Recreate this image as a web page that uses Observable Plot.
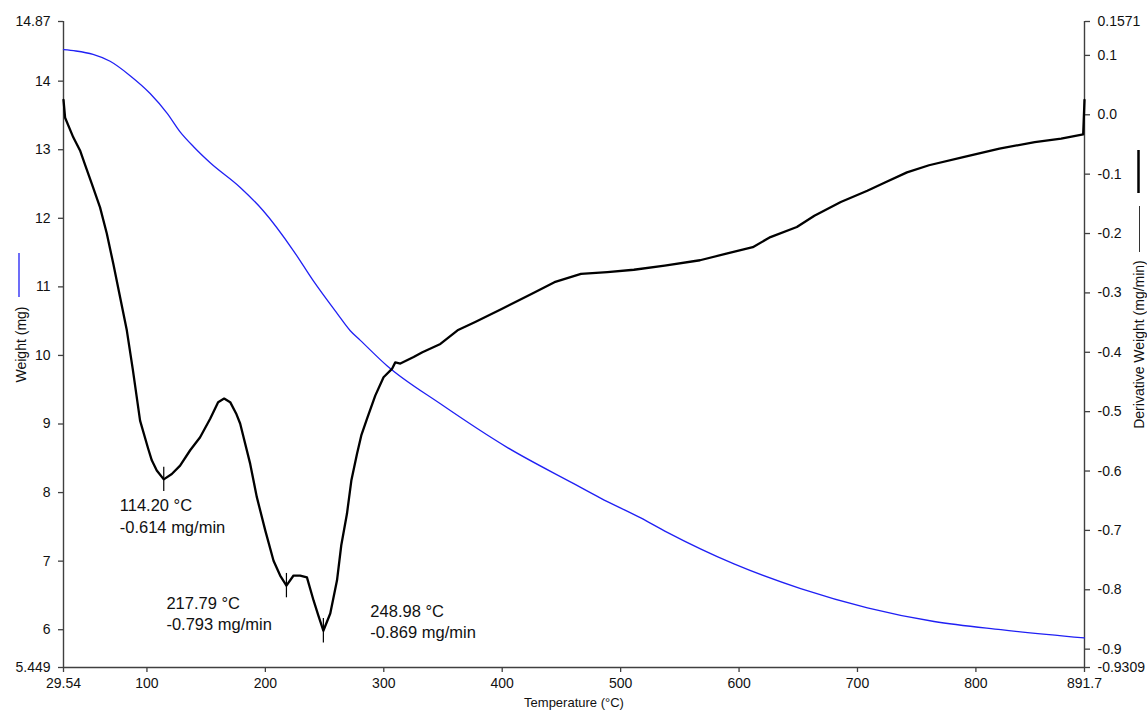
<!DOCTYPE html>
<html><head><meta charset="utf-8">
<script src="https://cdn.jsdelivr.net/npm/d3@7"></script>
<script src="https://cdn.jsdelivr.net/npm/@observablehq/plot@0.6"></script>
<style>
body{margin:0;background:#fff}
#chart svg{font-family:"Liberation Sans",Arial,sans-serif;background:#fff}
</style>
</head><body><div id="chart"></div>
<script>
// Weight (TGA) curve, left axis
const weightTemp = [29.54, 40.0, 54.5, 68.9, 85.8, 102.7, 117.1, 128.0, 139.6, 153.4, 178.8,
  198.2, 223.6, 240.4, 260.7, 271.7, 280.2, 302.7, 347.8, 404.1, 460.4,
  483.0, 517.0, 539.4, 595.7, 652.0, 708.4, 764.7, 821.1, 891.7];
const weightMg = [14.46, 14.44, 14.39, 14.29, 14.08, 13.82, 13.53, 13.26, 13.04, 12.81, 12.45,
  12.11, 11.53, 11.09, 10.61, 10.36, 10.22, 9.85, 9.295, 8.66, 8.13,
  7.92, 7.63, 7.42, 6.96, 6.60, 6.32, 6.12, 6.00, 5.88];

// Derivative weight (DTG) curve, right axis
const dtgTemp = [29.54, 30.9, 37.8, 43.5, 47.7, 53.4, 60.4, 66.1, 71.6, 77.3,
  83.0, 88.0, 94.2, 101.0, 104.1, 108.3, 114.2, 121.0, 128.0, 136.5,
  144.9, 153.4, 160.1, 165.2, 170.3, 175.3, 178.7, 187.2, 192.8, 199.9,
  206.9, 212.5, 217.79, 223.8, 229.4, 235.1, 240.7, 244.7, 248.98, 254.8,
  260.5, 264.1, 268.9, 272.6, 277.4, 281.0, 285.8, 292.8, 299.8, 306.9,
  309.7, 314.0, 325.2, 332.6, 347.8, 362.3, 377.2, 399.5, 425.5, 444.1,
  466.5, 488.8, 511.2, 537.2, 567.0, 589.3, 611.6, 626.5, 648.8, 663.6,
  685.9, 708.3, 723.2, 741.8, 760.4, 790.2, 819.9, 849.7, 872.0, 890.6,
  891.7];
const dtgRate = [0.025, -0.005, -0.038, -0.060, -0.084, -0.116, -0.156, -0.200, -0.251, -0.307,
  -0.363, -0.428, -0.515, -0.562, -0.582, -0.599, -0.614, -0.605, -0.591, -0.565,
  -0.543, -0.512, -0.484, -0.478, -0.484, -0.503, -0.520, -0.588, -0.644, -0.700,
  -0.751, -0.776, -0.793, -0.776, -0.776, -0.779, -0.818, -0.843, -0.869, -0.840,
  -0.784, -0.725, -0.672, -0.616, -0.571, -0.540, -0.512, -0.473, -0.442, -0.428,
  -0.417, -0.419, -0.408, -0.400, -0.386, -0.363, -0.349, -0.327, -0.301, -0.282,
  -0.268, -0.265, -0.261, -0.254, -0.245, -0.234, -0.223, -0.206, -0.189, -0.170,
  -0.147, -0.128, -0.114, -0.097, -0.085, -0.071, -0.057, -0.046, -0.040, -0.033,
  0.025];

// Annotated DTG peaks
const peakTemp = [114.20, 217.79, 248.98];
const peakRate = [-0.614, -0.793, -0.869];
const peakLabels = ["114.20 °C\n-0.614 mg/min", "217.79 °C\n-0.793 mg/min", "248.98 °C\n-0.869 mg/min"];

// Axes
const xDomain = [29.54, 891.7];
const xTicks = [29.54, 100, 200, 300, 400, 500, 600, 700, 800, 891.7];
const xTickLabels = ["29.54", "100", "200", "300", "400", "500", "600", "700", "800", "891.7"];
const leftDomain = [5.449, 14.87];
const leftTicks = [14.87, 14, 13, 12, 11, 10, 9, 8, 7, 6, 5.449];
const leftTickLabels = ["14.87", "14", "13", "12", "11", "10", "9", "8", "7", "6", "5.449"];
const rightDomain = [-0.9309, 0.1571];
const rightTicks = [0.1571, 0.1, 0.0, -0.1, -0.2, -0.3, -0.4, -0.5, -0.6, -0.7, -0.8, -0.9, -0.9309];
const rightTickLabels = ["0.1571", "0.1", "0.0", "-0.1", "-0.2", "-0.3", "-0.4", "-0.5", "-0.6", "-0.7", "-0.8", "-0.9", "-0.9309"];
const xTitle = "Temperature (°C)";
const leftTitle = "Weight (mg)";
const rightTitle = "Derivative Weight (mg/min)";

// ---- build ----
const toLeft = d3.scaleLinear().domain(rightDomain).range(leftDomain);
const weightData = weightTemp.map((t, i) => ({t, w: weightMg[i]}));
const dtgData = dtgTemp.map((t, i) => ({t, w: toLeft(dtgRate[i])}));
const peaks = peakTemp.map((t, i) => ({t, r: peakRate[i], label: peakLabels[i], i}));
const xLab = new Map(xTicks.map((v, i) => [v, xTickLabels[i]]));
const lLab = new Map(leftTicks.map((v, i) => [v, leftTickLabels[i]]));
const rTickW = rightTicks.map(v => toLeft(v));
const rLab = new Map(rTickW.map((v, i) => [v, rightTickLabels[i]]));

const W = 1147, H = 710, mL = 63, mR = 63, mT = 21, mB = 43;
const axisColor = "#404040", textColor = "#111";
const markerHalf = 0.0205;
const labelOffsets = [[-44, 36], [-120, 27], [47, -10]];

const marks = [
  Plot.ruleX([xDomain[0], xDomain[1]], {stroke: axisColor, strokeWidth: 1.4}),
  Plot.ruleY([leftDomain[0]], {stroke: axisColor, strokeWidth: 1.4}),
  Plot.axisX(xTicks, {tickSize: 5, tickPadding: 6, fontSize: 14, stroke: axisColor, strokeWidth: 1.3, fill: textColor, tickFormat: d => xLab.get(d), label: null}),
  Plot.axisY(leftTicks, {anchor: "left", tickSize: 5, tickPadding: 8, fontSize: 14, stroke: axisColor, strokeWidth: 1.3, fill: textColor, tickFormat: d => lLab.get(d), label: null}),
  Plot.axisY(rTickW, {anchor: "right", tickSize: 5, tickPadding: 8, fontSize: 14, stroke: axisColor, strokeWidth: 1.3, fill: textColor, tickFormat: d => rLab.get(d), label: null}),
  Plot.line(weightData, {x: "t", y: "w", stroke: "#2020f4", strokeWidth: 1.3, curve: "monotone-x"}),
  Plot.line(dtgData, {x: "t", y: "w", stroke: "#000", strokeWidth: 2.3, strokeLinejoin: "round"}),
  Plot.ruleX(peaks, {x: "t", y1: d => toLeft(d.r + markerHalf), y2: d => toLeft(d.r - markerHalf), stroke: "#000", strokeWidth: 1.2}),
  ...peaks.map((p, i) => Plot.text([p], {x: "t", y: d => toLeft(d.r), text: "label", dx: labelOffsets[i][0], dy: labelOffsets[i][1], textAnchor: "start", lineAnchor: "middle", lineHeight: 1.3, fontSize: 16.5, fill: textColor})),
  Plot.text([xTitle], {frameAnchor: "bottom", dy: 39, textAnchor: "middle", lineAnchor: "bottom", fontSize: 13, fill: textColor}),
  Plot.text([leftTitle], {frameAnchor: "left", dx: -42, rotate: -90, textAnchor: "middle", lineAnchor: "middle", fontSize: 14, fill: textColor}),
  Plot.text([rightTitle], {frameAnchor: "right", dx: 55, rotate: -90, textAnchor: "middle", lineAnchor: "middle", fontSize: 14, fill: textColor})
];

const chart = Plot.plot({
  width: W, height: H,
  marginLeft: mL, marginRight: mR, marginTop: mT, marginBottom: mB,
  x: {domain: xDomain},
  y: {domain: leftDomain},
  style: {background: "#fff", color: textColor},
  marks
});
document.getElementById("chart").appendChild(chart);

// legend swatches beside the axis titles
const svg = d3.select(chart.tagName.toLowerCase() === "svg" ? chart : chart.querySelector("svg"));
const midY = (mT + H - mB) / 2;
const leftX = mL - 44, rightX = W - mR + 54.5;
svg.append("line").attr("x1", leftX).attr("x2", leftX).attr("y1", midY - 91).attr("y2", midY - 47)
  .attr("stroke", "#2020f4").attr("stroke-width", 1.3);
svg.append("line").attr("x1", rightX).attr("x2", rightX).attr("y1", midY - 194).attr("y2", midY - 151)
  .attr("stroke", "#000").attr("stroke-width", 2.5);
svg.append("line").attr("x1", rightX + 1).attr("x2", rightX + 1).attr("y1", midY - 138).attr("y2", midY - 92)
  .attr("stroke", "#333").attr("stroke-width", 1);
</script>
</body></html>
